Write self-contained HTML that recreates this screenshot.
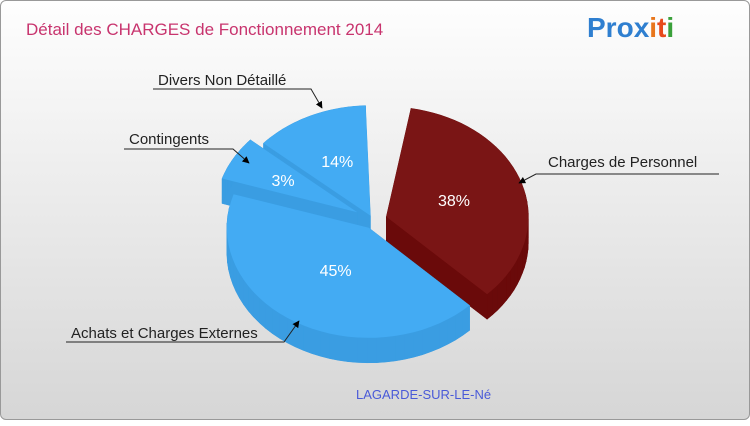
<!DOCTYPE html>
<html><head><meta charset="utf-8"><style>
body{margin:0;width:750px;height:420px;overflow:hidden;font-family:"Liberation Sans",sans-serif}
#c{position:absolute;left:0;top:0;width:748px;height:418px;border:1px solid #999;border-radius:6px;background:linear-gradient(#fefefe,#d6d6d6)}
</style></head><body>
<div id="c">
<svg width="750" height="420" id="s">
<defs><marker id="ar" viewBox="0 0 10 10" refX="9" refY="5" markerWidth="7" markerHeight="7" orient="auto"><path d="M0,0L10,5L0,10z" fill="#000"/></marker></defs>
<text x="25" y="34" font-size="17" fill="#c8346e">Détail des CHARGES de Fonctionnement 2014</text>
<text x="586" y="36" font-size="28" font-weight="bold"><tspan fill="#2f7fd0">Pro</tspan><tspan fill="#2f7fd0">x</tspan><tspan fill="#e8761c">i</tspan><tspan fill="#e84a1c">t</tspan><tspan fill="#3aa03a">i</tspan></text>
<g id="pie"></g>
<g id="lbl" font-size="15" fill="#222"></g>
<text x="355" y="398" font-size="13" fill="#4a5ad8">LAGARDE-SUR-LE-Né</text>
</svg></div>
<script>
const categories=["Charges de Personnel","Achats et Charges Externes","Contingents","Divers Non Détaillé"];
const values=[38,45,3,14];
const pctLabels=["38%","45%","3%","14%"];
const NS="http://www.w3.org/2000/svg";
const cx=372,cy=220,rx=142,ry=110,depth=25,startDeg=-83;
const tops=["#7a1515","#43abf3","#43abf3","#43abf3"];
const sides=["#6a0a0a","#3a9de2","#3a9de2","#3a9de2"];
const explode=[14,8,18,6];
const labelR=[0.5,0.45,0.6,0.55];
// perspective warp of pie angles to displayed angles
const warpIn=[-83,54,216,227,277];
const warpOut=[-80,45,198,222,268];
function warp(a){for(let i=0;i<warpIn.length-1;i++){if(a<=warpIn[i+1]||i==warpIn.length-2){const t=(a-warpIn[i])/(warpIn[i+1]-warpIn[i]);return warpOut[i]+t*(warpOut[i+1]-warpOut[i]);}}return a;}
const total=values.reduce((a,b)=>a+b,0);
const pie=document.getElementById('pie');
function mk(t,a){const e=document.createElementNS(NS,t);for(const k in a)e.setAttribute(k,a[k]);return e;}
let ang=startDeg;const sl=[];
values.forEach((v,i)=>{const span=v/total*360;sl.push({i,a0:ang,a1:ang+span});ang+=span;});
function pt(o,a,dy){const r=warp(a)*Math.PI/180;return [o[0]+rx*Math.cos(r),o[1]+ry*Math.sin(r)+dy];}
const order=[3,2,0,1];
order.forEach(k=>{const s=sl[k];const mid=warp((s.a0+s.a1)/2)*Math.PI/180;const ex=explode[k];
const o=[cx+ex*Math.cos(mid),cy+ex*Math.sin(mid)];
const n=40;const top=[o],bot=[[o[0],o[1]+depth]];
for(let j=0;j<=n;j++){const a=s.a0+(s.a1-s.a0)*j/n;top.push(pt(o,a,0));bot.push(pt(o,a,depth));}
const g=mk('g',{});


const P=a=>a.map(p=>p[0].toFixed(1)+','+p[1].toFixed(1)).join(' ');
g.appendChild(mk('polygon',{points:P(bot),fill:sides[k]}));
for(let j=0;j<top.length;j++){const j2=(j+1)%top.length;
g.appendChild(mk('polygon',{points:P([top[j],top[j2],bot[j2],bot[j]]),fill:sides[k],stroke:sides[k],'stroke-width':0.5}));}
g.appendChild(mk('polygon',{points:P(top),fill:tops[k]}));
const lp=[o[0]+rx*labelR[k]*Math.cos(mid),o[1]+ry*labelR[k]*Math.sin(mid)];
const t=mk('text',{x:lp[0],y:lp[1]+6,'text-anchor':'middle','font-size':16,fill:'#fff'});
t.textContent=pctLabels[k];g.appendChild(t);
pie.appendChild(g);});
const L=document.getElementById('lbl');
const leaders=[
[0,547,166,[[718,173],[535,173],[518,182]]],
[1,70,337,[[65,341],[283,341],[298,320]]],
[2,128,143,[[123,148],[232,148],[248,162]]],
[3,157,84,[[152,88],[310,88],[321,107]]]];
leaders.forEach(d=>{const t=mk('text',{x:d[1],y:d[2]});t.textContent=categories[d[0]];

L.appendChild(t);
const pl=mk('polyline',{points:d[3].map(p=>p.join(',')).join(' '),fill:'none',stroke:'#222','stroke-width':1,'marker-end':'url(#ar)'});

L.appendChild(pl);});
</script></body></html>
